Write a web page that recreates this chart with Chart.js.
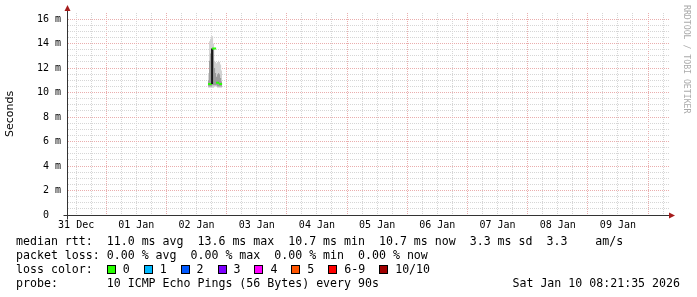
<!DOCTYPE html>
<html>
<head>
<meta charset="utf-8">
<script src="https://cdn.jsdelivr.net/npm/chart.js@4.4.1/dist/chart.umd.min.js"></script>
<style>
  body { margin: 0; background: #fff; }
  #wrap { position: relative; width: 697px; height: 297px; overflow: hidden; background: #fff; }
  #wrap canvas { position: absolute; left: 0; top: 0; }
  .row { position: absolute; left: 16px; font-family: 'DejaVu Sans Mono', monospace; font-size: 11.6px; line-height: 14px; white-space: pre; color: #000; }
  .box { display: inline-block; width: 7px; height: 7px; border: 1px solid #000; vertical-align: -1px; }
  #stamp { position: absolute; right: 17px; top: 276px; font-family: 'DejaVu Sans Mono', monospace; font-size: 11.6px; line-height: 14px; white-space: pre; }
  #brand { position: absolute; left: 682px; top: 5px; writing-mode: vertical-rl; font-family: 'DejaVu Sans Mono', monospace; font-size: 8.2px; color: #aaa; white-space: pre; }
</style>
</head>
<body>
<div id="wrap">
  <canvas id="rtt" width="697" height="297"></canvas>
  <div id="brand">RRDTOOL / TOBI OETIKER</div>
  <div class="row" id="l1" style="top:234px"></div>
  <div class="row" id="l2" style="top:248px"></div>
  <div class="row" id="l3" style="top:262px"></div>
  <div class="row" id="l4" style="top:276px"></div>
  <div id="stamp"></div>
</div>
<script>
// time axis: hours since 31 Dec 00:00
const xStart = 8.36;   // 31 Dec 08:21
const xEnd = 248.36;   // 10 Jan 08:21
const dayLabels = ['31 Dec', '01 Jan', '02 Jan', '03 Jan', '04 Jan', '05 Jan', '06 Jan', '07 Jan', '08 Jan', '09 Jan'];
const yMajor = [0, 2, 4, 6, 8, 10, 12, 14, 16];
const yMajorLabels = ['0  ', '2 m', '4 m', '6 m', '8 m', '10 m', '12 m', '14 m', '16 m'];

// samples on 02 Jan evening (ms)
const times     = [64.8, 65.2, 65.6, 66.0, 66.4, 66.8, 67.2, 67.6, 68.0, 68.4, 68.8, 69.2, 69.6, 70.0];
const smokeLow  = [10.4, 10.4, 10.4, 10.4, 10.4, 10.4, 10.5, 10.5, 10.5, 10.4, 10.4, 10.4, 10.4, 10.4];
const smokeHigh = [11.6, 14.2, 14.4, 14.6, 14.6, 14.0, 12.6, 12.5, 12.4, 12.5, 12.6, 12.5, 12.3, 11.8];
const coreLow   = [10.5, 10.5, 10.5, 10.5, 10.6, 10.6, 10.6, 10.6, 10.6, 10.5, 10.5, 10.5, 10.5, 10.5];
const coreHigh  = [11.0, 12.6, 13.2, 13.6, 13.6, 13.6, 12.0, 11.6, 11.3, 11.5, 11.6, 11.5, 11.2, 10.9];
const median    = [10.7, 10.7, 10.7, 10.7, 13.6, 13.6, 13.6, 13.6, 10.8, 10.8, 10.8, 10.7, 10.7, 10.7];

const lossLabels = ['0', '1', '2', '3', '4', '5', '6-9', '10/10'];
const lossColors = ['#26ff00', '#00b8ff', '#0059ff', '#7e00ff', '#ff00ff', '#ff5500', '#ff0000', '#a10000'];

// each sample covers one step: turn a series into flat steps
const step = 0.4;
const steps = vals => {
  const pts = [];
  vals.forEach((v, i) => {
    pts.push({ x: times[i] - step / 2, y: v });
    pts.push({ x: times[i] + step / 2, y: v });
  });
  return pts;
};

const gridMinor = '#d6d6d6';
const gridMajor = '#eaaeae';
const tickFont = { family: 'DejaVu Sans Mono', size: 10 };

const axisArrows = {
  id: 'axisArrows',
  afterDraw(chart) {
    const { ctx, chartArea: a } = chart;
    const x0 = Math.round(a.left) + 0.5, y0 = Math.round(a.bottom) + 0.5;
    ctx.save();
    ctx.strokeStyle = '#333';
    ctx.lineWidth = 1;
    ctx.beginPath();
    ctx.moveTo(x0, y0 + 4); ctx.lineTo(x0, a.top - 4);
    ctx.moveTo(x0 - 4, y0); ctx.lineTo(a.right + 2, y0);
    ctx.stroke();
    ctx.fillStyle = '#a51c1c';
    ctx.beginPath();
    ctx.moveTo(x0, a.top - 8); ctx.lineTo(x0 - 3, a.top - 2); ctx.lineTo(x0 + 3, a.top - 2);
    ctx.fill();
    ctx.beginPath();
    ctx.moveTo(a.right + 6, y0); ctx.lineTo(a.right, y0 - 3); ctx.lineTo(a.right, y0 + 3);
    ctx.fill();
    ctx.restore();
  }
};

const flat = { pointRadius: 0, borderWidth: 0, tension: 0 };

new Chart(document.getElementById('rtt'), {
  type: 'line',
  data: {
    datasets: [
      // 0: median
      {
        data: steps(median),
        borderColor: '#26ff00',
        borderWidth: 2,
        pointRadius: 0,
        fill: false,
        segment: {
          borderColor: c => {
            if (c.p0.parsed.x !== c.p1.parsed.x) return '#26ff00';
            return c.p1.parsed.y > c.p0.parsed.y ? '#1a1a1a' : 'rgba(0,0,0,0)';
          }
        },
        order: 1
      },
      // 1-2: dense core of the smoke
      { ...flat, data: steps(coreHigh), backgroundColor: '#9c9c9c', fill: { target: 2 }, order: 2 },
      { ...flat, data: steps(coreLow), fill: false, order: 2 },
      // 3-4: full ping spread
      { ...flat, data: steps(smokeHigh), backgroundColor: '#d2d2d2', fill: { target: 4 }, order: 3 },
      { ...flat, data: steps(smokeLow), fill: false, order: 3 }
    ]
  },
  options: {
    responsive: false,
    animation: false,
    layout: { padding: { top: 13, right: 28, left: 0, bottom: 0 } },
    plugins: { legend: { display: false }, tooltip: { enabled: false } },
    scales: {
      x: {
        type: 'linear', min: xStart, max: xEnd, offset: false,
        afterBuildTicks: s => {
          const t = [];
          for (let h = 12; h < xEnd; h += 6) t.push({ value: h });
          s.ticks = t;
        },
        afterFit: s => { s.height = 82; },
        ticks: {
          autoSkip: false, maxRotation: 0, padding: 4, color: '#000', font: tickFont,
          callback: v => (v % 24 === 12 ? dayLabels[(v - 12) / 24] : '')
        },
        grid: { offset: false, drawTicks: false, lineWidth: 1, color: c => (c.tick && c.tick.value % 24 === 0 ? gridMajor : gridMinor) },
        border: { color: '#333', dash: [1, 1] }
      },
      y: {
        min: 0, max: 16.5,
        afterBuildTicks: s => {
          const t = [];
          for (let v = 0; v <= 16; v += 0.5) t.push({ value: v });
          s.ticks = t;
        },
        afterFit: s => { s.width = 67; },
        ticks: {
          autoSkip: false, padding: 6, color: '#000', font: tickFont,
          callback: v => { const k = yMajor.indexOf(v); return k >= 0 ? yMajorLabels[k] : ''; }
        },
        grid: { drawTicks: false, lineWidth: 1, color: c => (c.tick && c.tick.value % 2 === 0 ? gridMajor : gridMinor) },
        border: { color: '#333', dash: [1, 1] },
        title: { display: true, text: 'Seconds', color: '#000', font: { family: 'DejaVu Sans', size: 11 } }
      }
    }
  },
  plugins: [axisArrows]
});

// legend text
document.getElementById('l1').textContent = 'median rtt:  11.0 ms avg  13.6 ms max  10.7 ms min  10.7 ms now  3.3 ms sd  3.3    am/s';
document.getElementById('l2').textContent = 'packet loss: 0.00 % avg  0.00 % max  0.00 % min  0.00 % now';
const l3 = document.getElementById('l3');
l3.append('loss color:  ');
lossLabels.forEach((lab, i) => {
  const b = document.createElement('span');
  b.className = 'box';
  b.style.background = lossColors[i];
  l3.append(b, ' ' + lab + '  ');
});
document.getElementById('l4').textContent = 'probe:       10 ICMP Echo Pings (56 Bytes) every 90s';
document.getElementById('stamp').textContent = 'Sat Jan 10 08:21:35 2026';
</script>
</body>
</html>
